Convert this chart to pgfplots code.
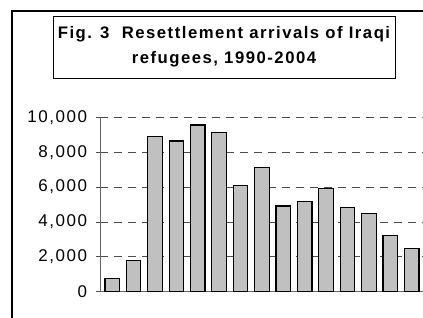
\documentclass[border=0pt]{standalone}
\usepackage{fontspec}
\setmainfont{Liberation Sans}
\newfontfamily\lsans{Liberation Sans}[LetterSpace=9]
\usepackage{pgfplots}
\pgfplotsset{compat=1.18}
\definecolor{barfill}{RGB}{192,192,192}
\begin{document}
\begin{tikzpicture}[x=1bp,y=1bp]
\draw[line width=1.5bp] (12,-30) rectangle (450,307);
\draw[line width=1bp] (53,239) rectangle (395,301);
\node[font=\lsans\bfseries\fontsize{16.7bp}{19bp}\selectfont, anchor=base, inner sep=0pt] at (224,279.7) {Fig. 3~~Resettlement arrivals of Iraqi};
\node[font=\lsans\bfseries\fontsize{16.7bp}{19bp}\selectfont, anchor=base, inner sep=0pt] at (224,254.5) {refugees, 1990-2004};
\begin{axis}[
  at={(100bp,26.3bp)}, anchor=south west,
  scale only axis, width=323bp, height=174.4bp,
  xmin=1989.43, xmax=2004.53, ymin=0, ymax=10000,
  ytick={0,2000,...,10000}, xtick=\empty,
  axis x line*=bottom, axis y line*=left,
  axis line style={black!60, line width=1bp},
  tick style={black!70, line width=0.8bp},
  major tick length=4bp, tick align=outside,
  ymajorgrids, grid style={black!70, line width=0.8bp, dash pattern=on 8bp off 6bp},
  scaled y ticks=false,
  /pgf/number format/assume math mode=true,
  yticklabel style={/pgf/number format/1000 sep={,}, font=\lsans\fontsize{17bp}{19bp}\selectfont, inner sep=0pt, xshift=-8.7bp},
  ybar, bar width=14.5bp, clip=false,
]
\addplot[fill=barfill, draw=black, line width=1.2bp, bar shift=0pt] coordinates {
(1990,760) (1991,1780) (1992,8890) (1993,8640) (1994,9560)
(1995,9140) (1996,6080) (1997,7110) (1998,4910) (1999,5160)
(2000,5930) (2001,4840) (2002,4500) (2003,3210) (2004,2470)
};
\end{axis}
\pgfresetboundingbox
\path[use as bounding box] (0,0) rectangle (423,318);
\end{tikzpicture}
\end{document}
